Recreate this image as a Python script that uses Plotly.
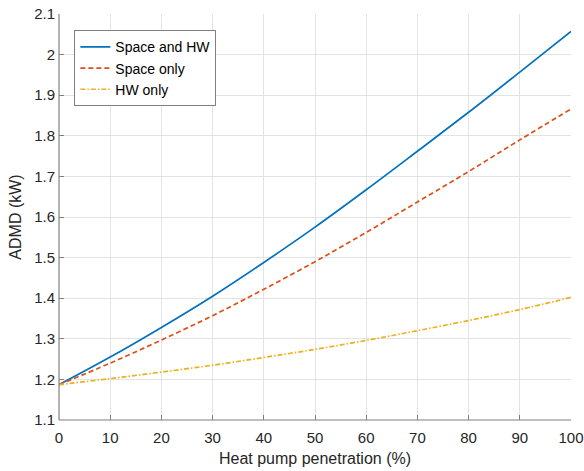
import plotly.graph_objects as go

x = [0, 10, 20, 30, 40, 50, 60, 70, 80, 90, 100]
space_hw = [1.187, 1.255, 1.328, 1.405, 1.488, 1.575, 1.667, 1.762, 1.858, 1.957, 2.057]
space_only = [1.187, 1.240, 1.297, 1.357, 1.422, 1.490, 1.562, 1.637, 1.712, 1.790, 1.866]
hw_only = [1.187, 1.202, 1.218, 1.235, 1.254, 1.274, 1.296, 1.320, 1.345, 1.372, 1.402]
names = ["Space and HW", "Space only", "HW only"]
colors = ["#0072BD", "#D95319", "#EDB120"]
dashes = ["solid", "5px,3px", "5px,2px,1.5px,2px"]

fig = go.Figure()
for ys, n, c, d in zip([space_hw, space_only, hw_only], names, colors, dashes):
    fig.add_trace(go.Scatter(x=x, y=ys, name=n, mode="lines",
                             line=dict(color=c, width=1.7, dash=d, shape="spline")))

axis_common = dict(showgrid=True, gridcolor="#E3E3E3", gridwidth=1,
                   showline=False, automargin=False,
                   ticks="inside", ticklen=5, tickcolor="#808080",
                   tickfont=dict(size=15, color="#262626"), zeroline=False)
fig.update_xaxes(range=[0, 100], tickvals=x, ticklabelstandoff=7, **axis_common,
                 title=dict(text="Heat pump penetration (%)", font=dict(size=16, color="#262626"), standoff=7))
fig.update_yaxes(range=[1.1, 2.1], tickvals=[1.1, 1.2, 1.3, 1.4, 1.5, 1.6, 1.7, 1.8, 1.9, 2.0, 2.1],
                 ticktext=["1.1", "1.2", "1.3", "1.4", "1.5", "1.6", "1.7", "1.8", "1.9", "2", "2.1"],
                 ticklabelstandoff=3, **axis_common,
                 title=dict(text="ADMD (kW)", font=dict(size=16, color="#262626"), standoff=8))
# MATLAB-like axis lines (left and bottom only)
fig.add_shape(type="line", xref="paper", yref="paper", x0=0, x1=0, y0=0, y1=1,
              line=dict(color="#808080", width=1.2))
fig.add_shape(type="line", xref="paper", yref="paper", x0=0, x1=1, y0=0, y1=0,
              line=dict(color="#808080", width=1.2))
fig.update_layout(width=584, height=471, plot_bgcolor="white", paper_bgcolor="white",
                  font=dict(family="Liberation Sans, Arial, sans-serif"),
                  margin=dict(l=59, r=13, t=14, b=51),
                  legend=dict(x=0.03, y=0.96, xanchor="left", yanchor="top",
                              bgcolor="white", bordercolor="#808080", borderwidth=1,
                              font=dict(size=14, color="black"), tracegroupgap=0,
                              itemwidth=30))
fig.write_html("out.html", config={"displayModeBar": False},
               post_script="document.body.style.margin='0';document.documentElement.style.overflow='hidden';")
